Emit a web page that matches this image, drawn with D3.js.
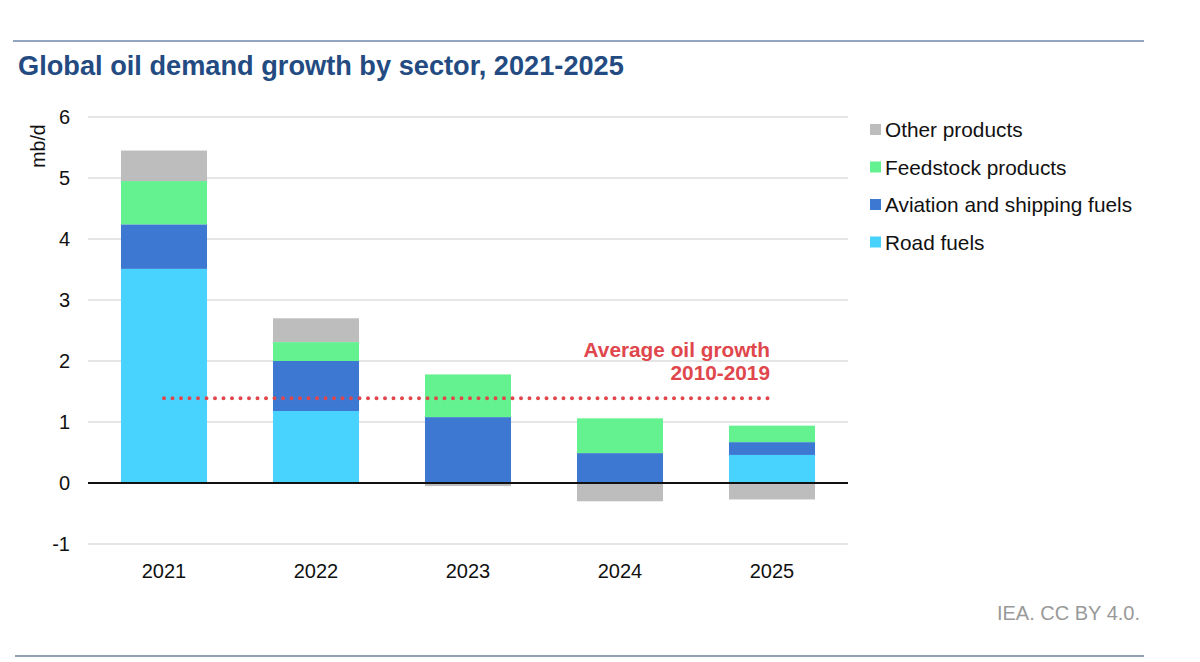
<!DOCTYPE html>
<html>
<head>
<meta charset="utf-8">
<script src="https://cdn.jsdelivr.net/npm/d3@7"></script>
<style>
  body { margin: 0; background: #fff; }
  text { font-family: "Liberation Sans", Arial, sans-serif; }
</style>
</head>
<body>
<div id="chart"></div>
<script>
var years = ["2021", "2022", "2023", "2024", "2025"];
var roadFuels = [3.51, 1.18, 0, 0, 0.46];
var aviationFuels = [0.73, 0.82, 1.08, 0.49, 0.21];
var feedstockProducts = [0.71, 0.31, 0.70, 0.57, 0.27];
var otherProducts = [0.50, 0.39, -0.05, -0.30, -0.27];
var yTicks = [-1, 0, 1, 2, 3, 4, 5, 6];
var avgGrowth = 1.39;

var seriesNames = ["Road fuels", "Aviation and shipping fuels", "Feedstock products", "Other products"];
var seriesKeys = ["road", "aviation", "feedstock", "other"];
var colors = ["#48d3fe", "#3d78d2", "#64f290", "#bdbdbd"];

var width = 1200, height = 662;

var rows = years.map(function(y, i) {
  return { year: y, road: roadFuels[i], aviation: aviationFuels[i], feedstock: feedstockProducts[i], other: otherProducts[i] };
});

var svg = d3.select("#chart").append("svg")
  .attr("width", width)
  .attr("height", height);

// frame rules
svg.append("line").attr("x1", 13).attr("x2", 1144).attr("y1", 41).attr("y2", 41)
  .attr("stroke", "#6f88ad").attr("stroke-width", 1.5);
svg.append("line").attr("x1", 15).attr("x2", 1144).attr("y1", 656).attr("y2", 656)
  .attr("stroke", "#6f8299").attr("stroke-width", 1.5);

svg.append("text")
  .attr("x", 18).attr("y", 75)
  .attr("font-size", 27.2).attr("font-weight", "bold")
  .attr("fill", "#234b82")
  .text("Global oil demand growth by sector, 2021-2025");

var x = d3.scaleBand().domain(years).range([88, 848]).paddingInner(0.434).paddingOuter(0.217);
var y = d3.scaleLinear().domain([-1, 6]).range([544, 117]);

// gridlines
svg.append("g").selectAll("line")
  .data(yTicks.filter(function(d) { return d !== 0; }))
  .enter().append("line")
    .attr("x1", 88).attr("x2", 848)
    .attr("y1", function(d) { return y(d); })
    .attr("y2", function(d) { return y(d); })
    .attr("stroke", "#dcdcdc").attr("stroke-width", 1.5);

// y axis labels (plain hyphen for negatives, as in the source)
var yAxis = svg.append("g")
  .attr("transform", "translate(88,0)")
  .call(d3.axisLeft(y).tickValues(yTicks).tickSize(0).tickPadding(18).tickFormat(function(d) { return String(d); }));
yAxis.select(".domain").remove();
yAxis.selectAll("text").attr("font-size", 20).attr("fill", "#111").attr("font-family", "Liberation Sans, Arial, sans-serif");

svg.append("text")
  .attr("transform", "translate(45,146) rotate(-90)")
  .attr("text-anchor", "middle")
  .attr("font-size", 19.5).attr("fill", "#111")
  .text("mb/d");

// stacked bars
var stack = d3.stack().keys(seriesKeys).offset(d3.stackOffsetDiverging);
var layers = stack(rows);

svg.append("g").selectAll("g")
  .data(layers)
  .enter().append("g")
    .attr("fill", function(d, i) { return colors[i]; })
  .selectAll("rect")
  .data(function(d) { return d; })
  .enter().append("rect")
    .attr("x", function(d) { return x(d.data.year); })
    .attr("width", x.bandwidth())
    .attr("y", function(d) { return y(Math.max(d[0], d[1])); })
    .attr("height", function(d) { return Math.abs(y(d[0]) - y(d[1])); });

// zero line
svg.append("line")
  .attr("x1", 88).attr("x2", 848)
  .attr("y1", y(0)).attr("y2", y(0))
  .attr("stroke", "#111").attr("stroke-width", 2);

// x axis labels
var xAxis = svg.append("g")
  .attr("transform", "translate(0," + y(-1) + ")")
  .call(d3.axisBottom(x).tickSize(0).tickPadding(20));
xAxis.select(".domain").remove();
xAxis.selectAll("text").attr("font-size", 20).attr("fill", "#111").attr("font-family", "Liberation Sans, Arial, sans-serif");

// average growth line
var xStart = x(years[0]) + x.bandwidth() / 2;
var xEnd = x(years[years.length - 1]) + x.bandwidth() / 2;
svg.append("line")
  .attr("x1", xStart).attr("x2", xEnd)
  .attr("y1", y(avgGrowth)).attr("y2", y(avgGrowth))
  .attr("stroke", "#e0474c").attr("stroke-width", 4)
  .attr("stroke-linecap", "round")
  .attr("stroke-dasharray", "0 8.5");

var avgLabel = svg.append("text")
  .attr("text-anchor", "end")
  .attr("font-size", 20.8).attr("font-weight", "bold")
  .attr("fill", "#e0474c");
avgLabel.append("tspan").attr("x", xEnd - 2).attr("y", 357).text("Average oil growth");
avgLabel.append("tspan").attr("x", xEnd - 2).attr("y", 380).text("2010-2019");

// legend
var legendOrder = [3, 2, 1, 0];
var legend = svg.append("g").selectAll("g")
  .data(legendOrder)
  .enter().append("g")
    .attr("transform", function(d, i) { return "translate(870," + (130 + i * 37.5) + ")"; });
legend.append("rect")
  .attr("x", 0).attr("y", -6)
  .attr("width", 11).attr("height", 11)
  .attr("fill", function(d) { return colors[d]; });
legend.append("text")
  .attr("x", 15).attr("y", 7)
  .attr("font-size", 20.8).attr("fill", "#111")
  .text(function(d) { return seriesNames[d]; });

svg.append("text")
  .attr("x", 1140).attr("y", 620)
  .attr("text-anchor", "end")
  .attr("font-size", 20).attr("fill", "#999")
  .text("IEA. CC BY 4.0.");
</script>
</body>
</html>
